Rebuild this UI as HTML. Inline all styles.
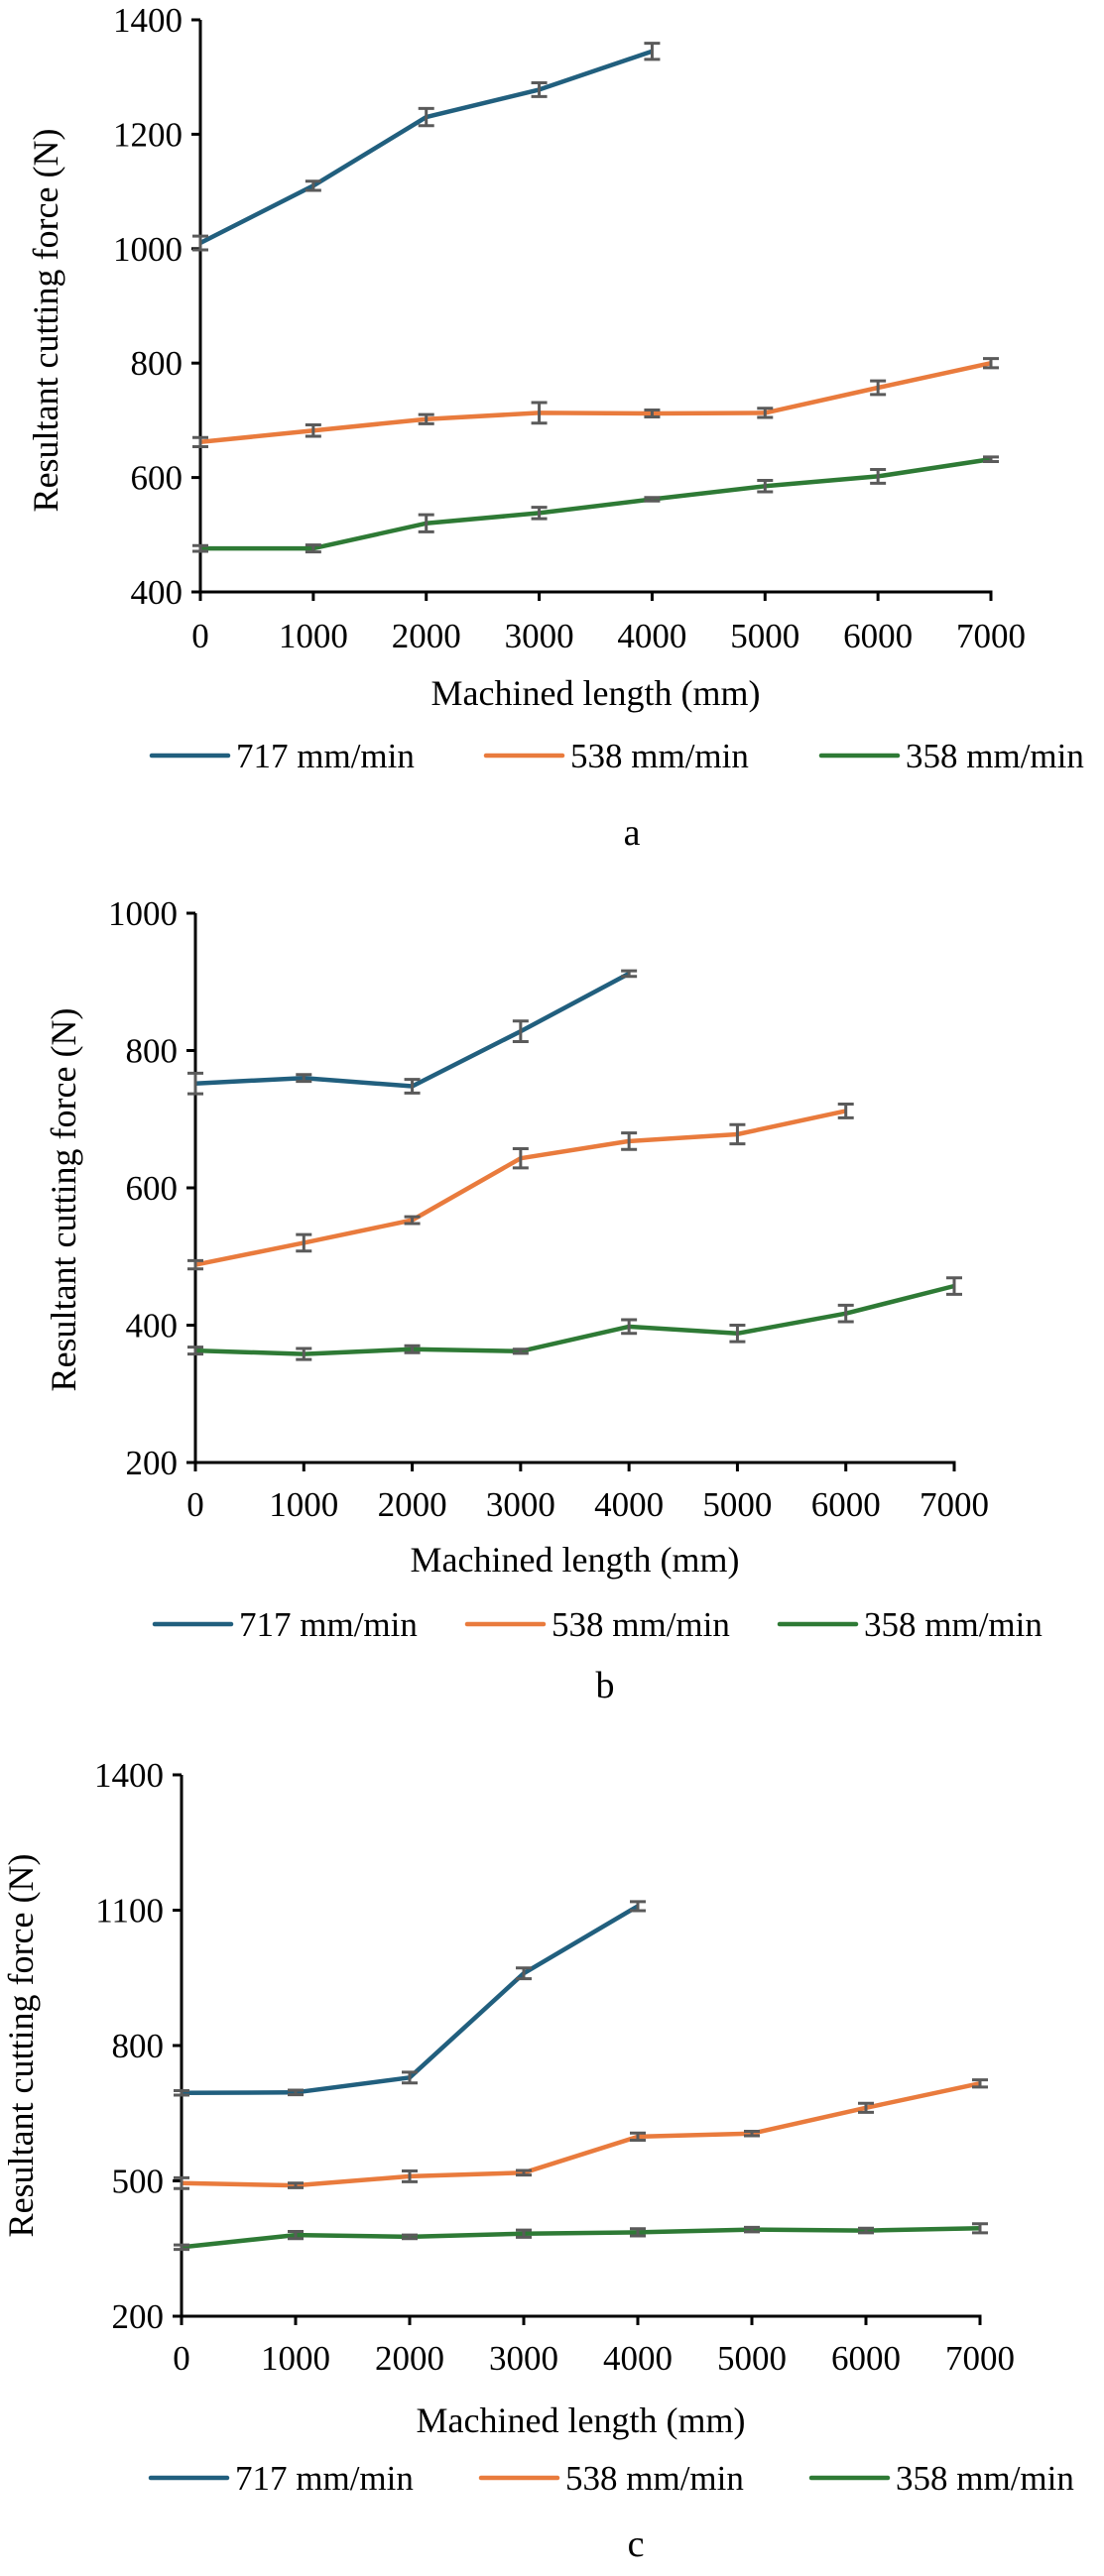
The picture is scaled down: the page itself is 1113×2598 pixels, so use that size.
<!DOCTYPE html>
<html><head><meta charset="utf-8">
<style>
html,body{margin:0;padding:0;background:#fff;}
svg{display:block;font-family:"Liberation Serif",serif;}
svg text{font-family:"Liberation Serif",serif;}
</style></head>
<body>
<svg id="fig" width="1113" height="2598" viewBox="0 0 1113 2598" xmlns="http://www.w3.org/2000/svg" font-family="Liberation Serif, serif"></svg>
<script>
// ---------- Data ----------
const xCats = [0,1000,2000,3000,4000,5000,6000,7000];
const xTickLabels = ["0","1000","2000","3000","4000","5000","6000","7000"];
const seriesNames = ["717 mm/min","538 mm/min","358 mm/min"];

// Chart a
const aTicks = [400,600,800,1000,1200,1400];
const aBlue = [1010,1110,1230,1278,1345];
const aBlueErr = [12,8,15,12,14];
const aOrange = [662,682,702,713,712,713,757,800];
const aOrangeErr = [8,10,8,18,6,8,12,8];
const aGreen = [476,476,520,538,562,585,602,632];
const aGreenErr = [5,6,15,10,3,10,12,4];

// Chart b
const bTicks = [200,400,600,800,1000];
const bBlue = [752,760,748,828,912];
const bBlueErr = [15,5,10,15,4];
const bOrange = [488,520,553,643,668,678,712];
const bOrangeErr = [6,12,5,14,12,14,10];
const bGreen = [363,358,365,362,398,388,417,457];
const bGreenErr = [5,8,5,3,10,12,12,12];

// Chart c
const cTicks = [200,500,800,1100,1400];
const cBlue = [695,696,729,960,1109];
const cBlueErr = [5,5,12,12,10];
const cOrange = [495,490,510,518,598,605,662,716];
const cOrangeErr = [12,5,12,5,8,5,10,8];
const cGreen = [353,380,376,383,386,392,390,395];
const cGreenErr = [5,8,4,8,8,5,5,10];

const colors = ["#215f7e","#e97b3d","#2e7a35"];
const NS = "http://www.w3.org/2000/svg";
const FONT = "Liberation Serif, serif";
const svg = document.getElementById("fig");

function mk(tag, attrs, parent){
  const e = document.createElementNS(NS, tag);
  for (const k in attrs) e.setAttribute(k, attrs[k]);
  if (tag === "text") e.setAttribute("font-family", FONT);
  (parent||svg).appendChild(e);
  return e;
}

function drawChart(cfg){
  const g = mk("g", {});
  
  
  const xS = v => cfg.x0 + (v - 0) / 7000 * (cfg.x1 - cfg.x0);
  const yS = v => cfg.yb + (v - cfg.ymin) / (cfg.ymax - cfg.ymin) * (cfg.yt - cfg.yb);

  cfg.ticks.forEach(t => {
    const y = yS(t);
    mk("line", {x1: cfg.x0 - 9, x2: cfg.x0, y1: y, y2: y, stroke: "#000", "stroke-width": 3}, g);
    const tx = mk("text", {x: cfg.x0 - 18, y: y + 12, "text-anchor": "end", "font-size": 35, fill: "#000"}, g);
    tx.textContent = String(t);
    
    
  });
  xCats.forEach((c, i) => {
    const x = xS(c);
    mk("line", {x1: x, x2: x, y1: cfg.yb, y2: cfg.yb + 9, stroke: "#000", "stroke-width": 3}, g);
    const tx = mk("text", {x: x, y: cfg.tickY + 12, "text-anchor": "middle", "font-size": 35, fill: "#000"}, g);
    tx.textContent = xTickLabels[i];
    
    
  });
  const ya = mk("line", {x1: cfg.x0, x2: cfg.x0, y1: cfg.yt, y2: cfg.yb + 1.5, stroke: "#000", "stroke-width": 3}, g);
  
  
  const xa = mk("line", {x1: cfg.x0 - 1.5, x2: cfg.x1 + 1.5, y1: cfg.yb, y2: cfg.yb, stroke: "#000", "stroke-width": 3}, g);
  
  

  const xt = mk("text", {x: (cfg.x0 + cfg.x1) / 2, y: cfg.titleY + 12, "text-anchor": "middle", "font-size": 36, fill: "#000"}, g);
  xt.textContent = "Machined length (mm)";
  
  
  const ytl = mk("text", {x: 0, y: 0, "text-anchor": "middle", "font-size": 36, fill: "#000",
    transform: "translate(" + cfg.ylabX + "," + cfg.ylabY + ") rotate(-90)"}, g);
  ytl.textContent = "Resultant cutting force (N)";
  
  

  cfg.series.forEach((s, si) => {
    const sg = mk("g", {}, g);
    
    
    const pts = s.vals.map((v, i) => xS(xCats[i]).toFixed(1) + "," + yS(v).toFixed(1)).join(" ");
    const pl = mk("polyline", {points: pts, fill: "none", stroke: colors[si], "stroke-width": 4.5, "stroke-linejoin": "round"}, sg);
    
    
    s.vals.forEach((v, i) => {
      const x = xS(xCats[i]);
      const e = s.err[i];
      const yTop = yS(v + e), yBot = yS(v - e);
      const eb = mk("path", {d: "M" + (x - 8) + " " + yTop + "H" + (x + 8) + "M" + x + " " + yTop + "V" + yBot + "M" + (x - 8) + " " + yBot + "H" + (x + 8),
        stroke: "#5a5a5a", "stroke-width": 3, fill: "none"}, sg);
      
      
    });
  });

  cfg.legendX.forEach((lx, i) => {
    const lg = mk("g", {}, g);
    
    
    mk("line", {x1: lx, x2: lx + 77, y1: cfg.legY, y2: cfg.legY, stroke: colors[i], "stroke-width": 4.5, "stroke-linecap": "round"}, lg);
    const t = mk("text", {x: lx + 85, y: cfg.legY + 12, "font-size": 35, fill: "#000"}, lg);
    t.textContent = seriesNames[i];
  });

  const pl = mk("text", {x: cfg.panelX, y: cfg.panelY + 12, "text-anchor": "middle", "font-size": 38, fill: "#000"}, g);
  pl.textContent = cfg.id;
  
  
}

drawChart({id: "a", x0: 202, x1: 999, yt: 20, yb: 597, ymin: 400, ymax: 1400, ticks: aTicks,
  tickY: 641, titleY: 699, legY: 762, legendX: [153, 490, 828], panelX: 637, panelY: 840,
  ylabX: 58, ylabY: 323,
  series: [{vals: aBlue, err: aBlueErr}, {vals: aOrange, err: aOrangeErr}, {vals: aGreen, err: aGreenErr}]});

drawChart({id: "b", x0: 197, x1: 962, yt: 921, yb: 1475, ymin: 200, ymax: 1000, ticks: bTicks,
  tickY: 1517, titleY: 1573, legY: 1638, legendX: [156, 471, 786], panelX: 610, panelY: 1700,
  ylabX: 76, ylabY: 1210,
  series: [{vals: bBlue, err: bBlueErr}, {vals: bOrange, err: bOrangeErr}, {vals: bGreen, err: bGreenErr}]});

drawChart({id: "c", x0: 183, x1: 988, yt: 1790, yb: 2336, ymin: 200, ymax: 1400, ticks: cTicks,
  tickY: 2378, titleY: 2441, legY: 2499, legendX: [152, 485, 818], panelX: 641, panelY: 2566,
  ylabX: 33, ylabY: 2063,
  series: [{vals: cBlue, err: cBlueErr}, {vals: cOrange, err: cOrangeErr}, {vals: cGreen, err: cGreenErr}]});
</script>
</body></html>
